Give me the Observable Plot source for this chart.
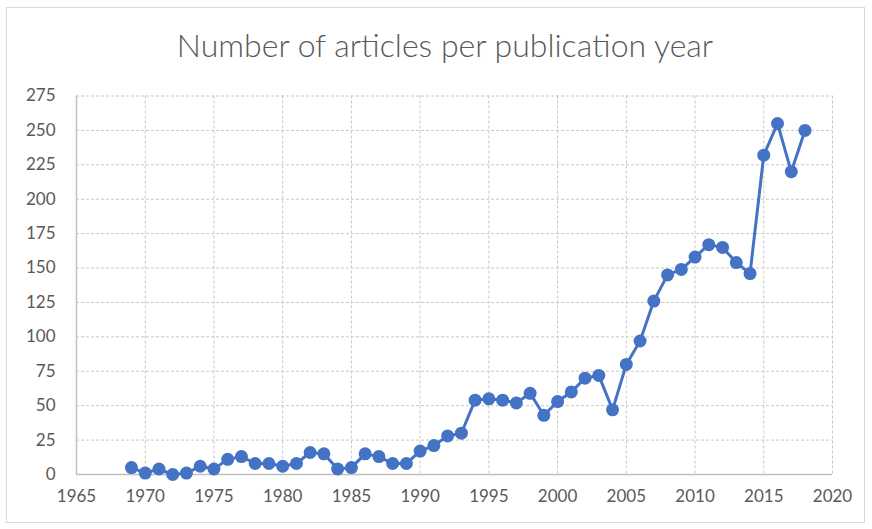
<!DOCTYPE html>
<html><head><meta charset="utf-8">
<script src="https://cdn.jsdelivr.net/npm/d3@7"></script>
<script src="https://cdn.jsdelivr.net/npm/@observablehq/plot@0.6"></script>
<style>
html,body{margin:0;padding:0;background:#fff;}
#wrap{position:relative;width:872px;height:529px;overflow:hidden;}
#frame{position:absolute;left:6px;top:7px;width:859px;height:516px;border:1px solid #d9d9d9;box-sizing:border-box;}
#title{position:absolute;left:0;top:25px;width:890px;text-align:center;font-family:Lato,"Open Sans",sans-serif;font-weight:300;font-size:32px;line-height:40px;color:#595959;}
#chart{position:absolute;left:0;top:70px;}
</style></head>
<body><div id="wrap"><div id="frame"></div><div id="title">Number of articles per publication year</div><div id="chart"></div></div>
<script>
const years = [1969,1970,1971,1972,1973,1974,1975,1976,1977,1978,1979,1980,1981,1982,1983,1984,1985,1986,1987,1988,1989,1990,1991,1992,1993,1994,1995,1996,1997,1998,1999,2000,2001,2002,2003,2004,2005,2006,2007,2008,2009,2010,2011,2012,2013,2014,2015,2016,2017,2018];
const articles = [5,1,4,0,1,6,4,11,13,8,8,6,8,16,15,4,5,15,13,8,8,17,21,28,30,54,55,54,52,59,43,53,60,70,72,47,80,97,126,145,149,158,167,165,154,146,232,255,220,250];
const xTicks = [1965,1970,1975,1980,1985,1990,1995,2000,2005,2010,2015,2020];
const yTicks = [0,25,50,75,100,125,150,175,200,225,250,275];
const data = years.map((y,i)=>({year:y, n:articles[i]}));
const plot = Plot.plot({
  width: 872, height: 459,
  marginLeft: 76, marginRight: 40, marginTop: 25.5, marginBottom: 55,
  style:{fontFamily:'Lato,"Open Sans",sans-serif', fontSize:"17px", color:"#595959", background:"transparent"},
  x:{domain:[1965,2020], ticks:xTicks, tickFormat:d=>String(d), label:null, tickSize:0, tickPadding:15},
  y:{domain:[0,275], ticks:yTicks, label:null, tickSize:0, tickPadding:21},
  marks:[
    Plot.gridY(yTicks.filter(d=>d>0), {stroke:"#c8c8c8", strokeOpacity:1, strokeDasharray:"3,2", strokeWidth:1}),
    Plot.gridX(xTicks.filter(d=>d>1965), {stroke:"#c8c8c8", strokeOpacity:1, strokeDasharray:"3,2", strokeWidth:1}),
    Plot.ruleX([1965], {stroke:"#bfbfbf", strokeWidth:1.5}),
    Plot.ruleY([0], {stroke:"#bfbfbf", strokeWidth:1.5}),
    Plot.line(data, {x:"year", y:"n", stroke:"#4472C4", strokeWidth:3}),
    Plot.dot(data, {x:"year", y:"n", r:6.5, fill:"#4472C4", stroke:"none"})
  ]
});
document.getElementById("chart").appendChild(plot);
</script></body></html>
